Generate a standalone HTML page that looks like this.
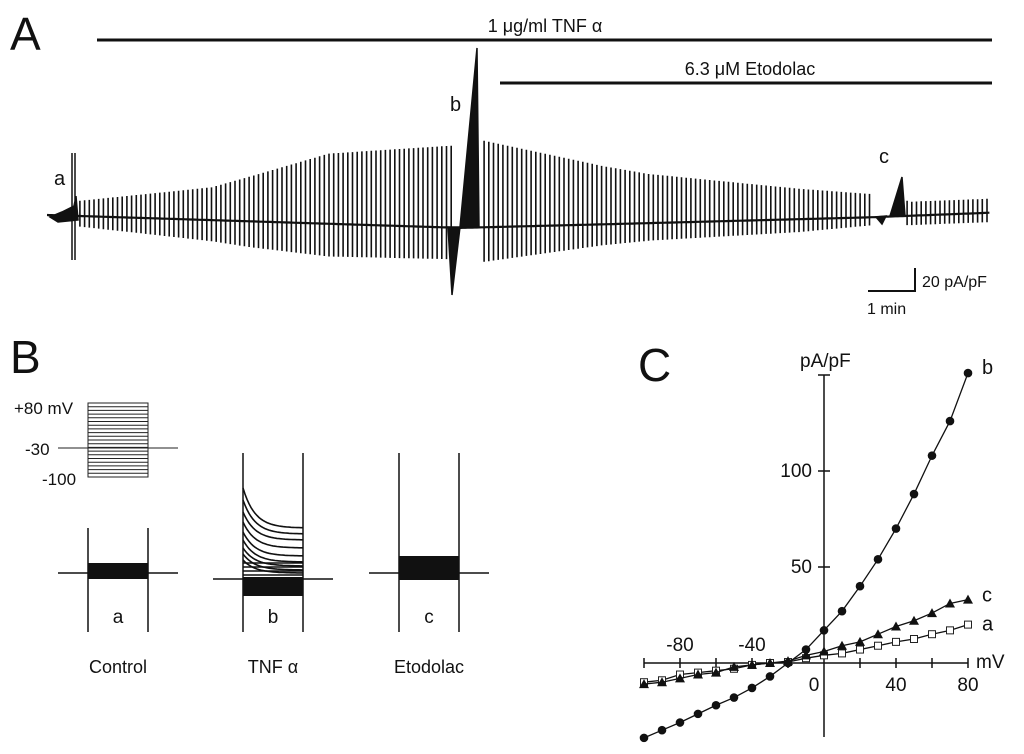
<!DOCTYPE html>
<html><head><meta charset="utf-8"><style>
body{margin:0;background:#fff;width:1024px;height:754px;overflow:hidden}
svg{display:block}
text{font-family:"Liberation Sans",sans-serif;fill:#111}
</style></head><body>
<svg id="fig" width="1024" height="754" viewBox="0 0 1024 754">
<g id="panelA">
<text x="10" y="50" font-size="46">A</text>
<line x1="97" y1="40" x2="992" y2="40" stroke="#111" stroke-width="3"/>
<text x="545" y="32" font-size="18" text-anchor="middle">1 μg/ml TNF α</text>
<line x1="500" y1="83" x2="992" y2="83" stroke="#111" stroke-width="3"/>
<text x="750" y="75" font-size="18" text-anchor="middle">6.3 μM Etodolac</text>
<g id="trace"></g>
<text x="54" y="185" font-size="20">a</text>
<text x="450" y="111" font-size="20">b</text>
<text x="879" y="163" font-size="20">c</text>
<path d="M868 291 H915 V268" fill="none" stroke="#111" stroke-width="2"/>
<text x="922" y="287" font-size="16">20 pA/pF</text>
<text x="867" y="314" font-size="16">1 min</text>
</g>
<g id="panelB">
<text x="10" y="373" font-size="46">B</text>
<g id="protocol"></g>
<text x="14" y="414" font-size="17">+80 mV</text>
<text x="25" y="455" font-size="17">-30</text>
<text x="42" y="485" font-size="17">-100</text>
<g id="traces"></g>
<text x="118" y="623" font-size="19" text-anchor="middle">a</text>
<text x="273" y="623" font-size="19" text-anchor="middle">b</text>
<text x="429" y="623" font-size="19" text-anchor="middle">c</text>
<text x="118" y="673" font-size="18" text-anchor="middle">Control</text>
<text x="273" y="673" font-size="18" text-anchor="middle">TNF α</text>
<text x="429" y="673" font-size="18" text-anchor="middle">Etodolac</text>
</g>
<g id="panelC">
<text x="638" y="381" font-size="46">C</text>
<text x="800" y="367" font-size="19">pA/pF</text>
<text x="976" y="668" font-size="19">mV</text>
<g id="iv"></g>
</g>
</svg>
<script>
// ---------- Panel C data ----------
const voltages = [-100,-90,-80,-70,-60,-50,-40,-30,-20,-10,0,10,20,30,40,50,60,70,80];
const seriesB = [-39,-35,-31,-26.5,-22,-18,-13,-7,0,7,17,27,40,54,70,88,108,126,151];
const seriesC = [-11,-10,-8,-6,-5,-2,-1,0,1,4,6,9,11,15,19,22,26,31,33];
const seriesA = [-10,-9,-6,-5,-4,-3,-1,0,0.5,2.5,4,5,7,9,11,12.5,15,17,20];
const xTicks = [-100,-80,-60,-40,-20,20,40,60,80];
const xTickLabels = [-80,-40,0,40,80];
const yTickLabels = [50,100];
// ---------- Panel A data ----------
const envTime = [0,0.7,3.5,4.3,6.0,8.6,9.2,11.8,12.8,16.0,17.5,18.4,20.1];
const envUpper = [13,13,28,38,60,70,75,50,42,26,20,12,12];
const envLower = [9,9,18,22,28,27,30,18,15,11,7,8,8];
const baseTime = [0,8.8,11.8,17.5,20.1];
const baseVal = [0,-11,-8,-2,2];

const NS='http://www.w3.org/2000/svg';
function mk(tag,attrs,parent){const e=document.createElementNS(NS,tag);for(const k in attrs)e.setAttribute(k,attrs[k]);parent.appendChild(e);return e;}

const sx=v=>824+(v)*1.8, sy=v=>663-v*1.92;
const iv=document.getElementById('iv');
let e=mk('line',{x1:sx(-100),y1:sy(0),x2:sx(80),y2:sy(0),stroke:'#111','stroke-width':1.5},iv);


e=mk('line',{x1:sx(0),y1:375,x2:sx(0),y2:737,stroke:'#111','stroke-width':1.5},iv);


xTicks.forEach(t=>{const l=mk('line',{x1:sx(t),y1:sy(0)-5,x2:sx(t),y2:sy(0)+5,stroke:'#111','stroke-width':1.5},iv);

});
xTickLabels.forEach(t=>{const above=t<0;const tx=mk('text',{x:t===0?sx(t)-10:sx(t),y:above?sy(0)-12:sy(0)+28,'font-size':19,'text-anchor':'middle'},iv);tx.textContent=t;

});
[50,100,150].forEach(t=>{const l=mk('line',{x1:sx(0)-6,y1:sy(t),x2:sx(0)+6,y2:sy(t),stroke:'#111','stroke-width':1.5},iv);

});
yTickLabels.forEach(t=>{const tx=mk('text',{x:sx(0)-12,y:sy(t)+6,'font-size':19,'text-anchor':'end'},iv);tx.textContent=t;

});
function series(vals,name,marker){
  const g=mk('g',{},iv);
  
  
  const p=mk('polyline',{points:voltages.map((v,i)=>sx(v)+','+sy(vals[i])).join(' '),fill:'none',stroke:'#111','stroke-width':1.3},g);
  
  
  voltages.forEach((v,i)=>{const x=sx(v),y=sy(vals[i]);let m;
    if(marker==='circle')m=mk('circle',{cx:x,cy:y,r:4.3,fill:'#111'},g);
    else if(marker==='tri')m=mk('polygon',{points:`${x},${y-5} ${x-5},${y+4} ${x+5},${y+4}`,fill:'#111'},g);
    else m=mk('rect',{x:x-3.5,y:y-3.5,width:7,height:7,fill:'#fff',stroke:'#222','stroke-width':1},g);
    
    });
}
series(seriesA,'series-a','square');
series(seriesC,'series-c','tri');
series(seriesB,'series-b','circle');
[['b',seriesB,-5],['c',seriesC,-4],['a',seriesA,0]].forEach(([n,s,dy])=>{const tx=mk('text',{x:sx(80)+14,y:sy(s[s.length-1])+6+dy,'font-size':20},iv);tx.textContent=n;

});

function interp(ts,vs,t){if(t<=ts[0])return vs[0];for(let i=1;i<ts.length;i++){if(t<=ts[i]){const f=(t-ts[i-1])/(ts[i]-ts[i-1]);return vs[i-1]+f*(vs[i]-vs[i-1]);}}return vs[vs.length-1];}
const ax=t=>47+t*47, ay=v=>215-v*1.17;
const tr=document.getElementById('trace');
let bd='';for(let t=0;t<=20.1;t+=0.05){bd+=(t?'L':'M')+ax(t).toFixed(1)+' '+ay(interp(baseTime,baseVal,t)).toFixed(1);}
e=mk('path',{d:bd,fill:'none',stroke:'#111','stroke-width':2.2},tr);


let sd='';
for(let t=0.7;t<=20.1;t+=0.1){if((t>8.6&&t<9.2)||(t>17.5&&t<18.2))continue;
  const b=interp(baseTime,baseVal,t),u=interp(envTime,envUpper,t),lo=interp(envTime,envLower,t);
  sd+='M'+ax(t).toFixed(1)+' '+ay(b+u).toFixed(1)+'V'+ay(b-lo).toFixed(1);}
e=mk('path',{d:sd,fill:'none',stroke:'#111','stroke-width':1.6},tr);


e=mk('path',{d:'M50 217 L62 212 L74 206 L76 196 L78 220 L58 222Z M72 153 V260 M75 153 V260',fill:'#111',stroke:'#111','stroke-width':1.5},tr);


e=mk('path',{d:'M460 227 L477 48 L479 227Z M448 227 L452 295 L460 227Z',fill:'#111',stroke:'#111','stroke-width':1.5},tr);


e=mk('path',{d:'M890 216 L902 177 L905 216Z M876 217 L882 224 L886 216Z',fill:'#111',stroke:'#111','stroke-width':1.5},tr);



const pr=document.getElementById('protocol');
let pd='M88 403 H148 V477 H88Z M58 448 H178';
for(let y=403;y<=477;y+=3.7)pd+='M88 '+y.toFixed(1)+' H148';
e=mk('path',{d:pd,fill:'none',stroke:'#222','stroke-width':1},pr);


const trs=document.getElementById('traces');
function block(x0,top,base,y1,y2,name,curves){
  const g=mk('g',{},trs);
  
  
  mk('path',{d:`M${x0} ${top} V632 M${x0+60} ${top} V632 M${x0-30} ${base} H${x0+90}`,stroke:'#111','stroke-width':1.5,fill:'none'},g);
  mk('rect',{x:x0,y:y1,width:60,height:y2-y1,fill:'#111'},g);
  if(curves)curves.forEach(([s,en])=>{let d='M'+x0+' '+s;for(let i=1;i<=30;i++){const x=x0+i*2;const f=Math.exp(-i/6);d+=' L'+x+' '+(en+(s-en)*f).toFixed(1);}mk('path',{d,fill:'none',stroke:'#111','stroke-width':1.6},g);});
}
block(88,528,573,563,579,'trace-a');
block(243,453,579,577,596,'trace-b',[[488,528],[500,534],[512,540],[522,548],[532,556],[540,562],[548,566],[554,570],[560,573],[563,563],[567,567],[571,571],[575,575]]);
block(399,453,573,556,580,'trace-c');
</script>
</body></html>
